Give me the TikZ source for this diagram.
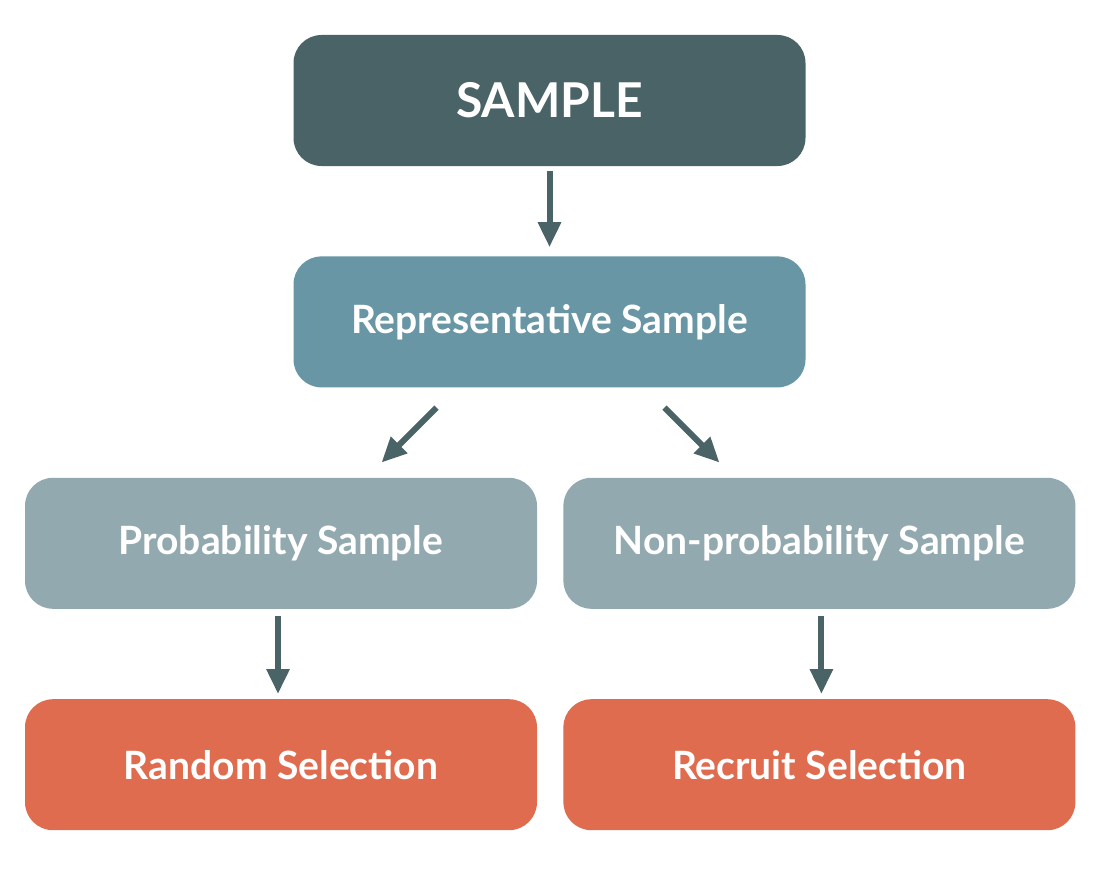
\documentclass[tikz,border=0pt]{standalone}
\usepackage{fontspec}
\setmainfont{Lato}[Ligatures=Rare]
\usetikzlibrary{positioning,arrows.meta}
\definecolor{darkteal}{HTML}{4A6367}
\definecolor{midteal}{HTML}{6896A5}
\definecolor{greyteal}{HTML}{92A9B0}
\definecolor{coral}{HTML}{E06C4F}
\begin{document}
\begin{tikzpicture}[
box/.style={rounded corners=28pt,
  minimum width=512pt,
  minimum height=131pt,
  inner sep=0pt,
  text=white,align=center,
  node distance=90pt and 26pt,
  font=\bfseries\fontsize{39}{45}\selectfont
},
topbox/.style={box,fill=darkteal,font=\bfseries\fontsize{48}{54}\selectfont},
midbox/.style={box,fill=midteal},
lowbox/.style={box,fill=greyteal},
selbox/.style={box,fill=coral},
link/.style={darkteal,line width=6pt,-{Triangle[width=22pt,length=25pt]}}
]
\useasboundingbox (0pt,0pt) rectangle (1100pt,-875pt);

\node (sample) [topbox] at (549.5pt,-100.5pt) {SAMPLE};

\node (repr) [midbox, below=of sample] {Representative Sample};

\node (prob) [lowbox, below=of repr, xshift=-268.5pt] {Probability Sample};

\node (nonprob) [lowbox, right=of prob] {Non-probability Sample};

\node (random) [selbox, below=of prob] {Random Selection};

\node (recruit) [selbox, below=of nonprob] {Recruit Selection};


\draw [link,shorten <=5pt,shorten >=9pt] (sample) -- (repr);
\draw [link] ([xshift=-113pt,yshift=-20pt]repr.south) -- ([xshift=-168pt,yshift=-75pt]repr.south);
\draw [link] ([xshift=115pt,yshift=-20pt]repr.south) -- ([xshift=170pt,yshift=-75pt]repr.south);
\draw [link,shorten <=7pt,shorten >=5pt] ([xshift=-3pt]prob.south) -- ([xshift=-3pt]random.north);
\draw [link,shorten <=7pt,shorten >=5pt] ([xshift=2pt]nonprob.south) -- ([xshift=2pt]recruit.north);
\end{tikzpicture}
\end{document}
